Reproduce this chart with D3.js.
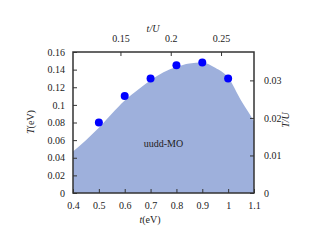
<!DOCTYPE html>
<html>
<head>
<meta charset="utf-8">
<script src="https://cdn.jsdelivr.net/npm/d3@7"></script>
<style>
  body { margin: 0; background: #fff; }
</style>
</head>
<body>
<div id="chart"></div>
<script>
const width = 314;
const height = 243;
const serif = "'Liberation Serif', 'Times New Roman', serif";

// boundary of the uudd-MO region
const curveT = [0.40, 0.45, 0.50, 0.55, 0.60, 0.65, 0.70, 0.75, 0.80, 0.85, 0.90, 0.95, 1.00, 1.05, 1.08, 1.10];
const curveTemp = [0.047, 0.060, 0.074, 0.090, 0.105, 0.117, 0.128, 0.137, 0.143, 0.147, 0.148, 0.142, 0.131, 0.105, 0.091, 0.081];

// blue points
const pointT = [0.5, 0.6, 0.7, 0.8, 0.9, 1.0];
const pointTemp = [0.08, 0.11, 0.13, 0.145, 0.148, 0.13];

const xTicks = [0.4, 0.5, 0.6, 0.7, 0.8, 0.9, 1, 1.1];
const yTicks = [0, 0.02, 0.04, 0.06, 0.08, 0.1, 0.12, 0.14, 0.16];
const topTicks = [0.15, 0.2, 0.25];
const rightTicks = [0, 0.01, 0.02, 0.03];

const margin = { left: 73, right: 60, top: 52, bottom: 50 };
const x = d3.scaleLinear().domain([0.4, 1.1]).range([margin.left, width - margin.right]);
const y = d3.scaleLinear().domain([0, 0.16]).range([height - margin.bottom, margin.top]);
// secondary axes
const xTop = d3.scaleLinear().domain([0.4 / 3.89, 1.1 / 3.89]).range(x.range());
const yRight = d3.scaleLinear().domain([0, 0.16 / 4.26]).range(y.range());

const svg = d3.select("#chart").append("svg")
  .attr("width", width).attr("height", height);

const area = d3.area()
  .x((d, i) => x(curveT[i]))
  .y0(y(0))
  .y1(d => y(d))
  .curve(d3.curveMonotoneX);

svg.append("path")
  .datum(curveTemp)
  .attr("fill", "#9eb0dc")
  .attr("d", area);

svg.selectAll("circle.pt")
  .data(pointTemp)
  .join("circle")
  .attr("class", "pt")
  .attr("cx", (d, i) => x(pointT[i]))
  .attr("cy", d => y(d))
  .attr("r", 4)
  .attr("fill", "#0000ff");

function styleAxis(g) {
  g.attr("font-family", serif).attr("font-size", 10);
  g.select(".domain").remove();
  g.selectAll(".tick line").attr("stroke", "#333").attr("stroke-width", 1);
  g.selectAll(".tick text").attr("fill", "#222");
}

svg.append("g")
  .attr("transform", `translate(0,${y(0)})`)
  .call(d3.axisBottom(x).tickValues(xTicks).tickSize(-4).tickPadding(9).tickFormat(d3.format("")))
  .call(styleAxis);

svg.append("g")
  .attr("transform", `translate(${x(0.4)},0)`)
  .call(d3.axisLeft(y).tickValues(yTicks).tickSize(-4).tickPadding(8).tickFormat(d3.format("")))
  .call(styleAxis);

svg.append("g")
  .attr("transform", `translate(0,${y(0.16)})`)
  .call(d3.axisTop(xTop).tickValues(topTicks).tickSize(-4).tickPadding(10).tickFormat(d3.format("")))
  .call(styleAxis);

svg.append("g")
  .attr("transform", `translate(${x(1.1)},0)`)
  .call(d3.axisRight(yRight).tickValues(rightTicks).tickSize(-4).tickPadding(10).tickFormat(d3.format("")))
  .call(styleAxis);

// frame
svg.append("rect")
  .attr("x", x(0.4)).attr("y", y(0.16))
  .attr("width", x(1.1) - x(0.4)).attr("height", y(0) - y(0.16))
  .attr("fill", "none").attr("stroke", "#333").attr("stroke-width", 1.5);

const labels = svg.append("g")
  .attr("font-family", serif).attr("font-size", 10).attr("fill", "#222");

labels.append("text")
  .attr("x", x(0.75)).attr("y", 147)
  .attr("text-anchor", "middle")
  .text("uudd-MO");

labels.append("text")
  .attr("x", 150).attr("y", 223)
  .attr("text-anchor", "middle")
  .html('<tspan font-style="italic">t</tspan>(eV)');

labels.append("text")
  .attr("x", 153).attr("y", 32)
  .attr("text-anchor", "middle").attr("font-style", "italic")
  .text("t/U");

labels.append("text")
  .attr("transform", "translate(34,122) rotate(-90)")
  .attr("text-anchor", "middle")
  .html('<tspan font-style="italic">T</tspan>(eV)');

labels.append("text")
  .attr("transform", "translate(289,120) rotate(-90)")
  .attr("text-anchor", "middle").attr("font-style", "italic")
  .text("T/U");
</script>
</body>
</html>
